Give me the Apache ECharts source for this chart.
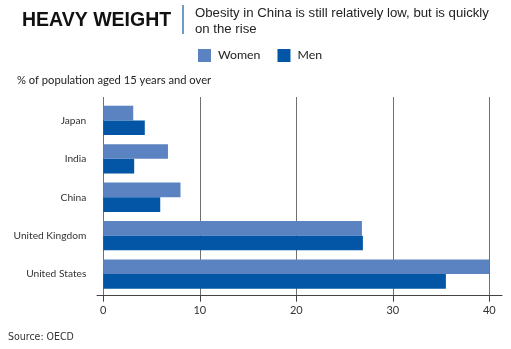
<!DOCTYPE html>
<html>
<head>
<meta charset="utf-8">
<script src="https://cdn.jsdelivr.net/npm/echarts@6/dist/echarts.min.js"></script>
<style>
  html, body { margin: 0; padding: 0; background: #fff; }
  #chart { width: 511px; height: 349px; }
</style>
</head>
<body>
<div id="chart"></div>
<script>
// Obesity rates by country, % of population aged 15+
const countries = ['Japan', 'India', 'China', 'United Kingdom', 'United States'];
const women = [3.1, 6.7, 8.0, 26.8, 40.1];
const men = [4.3, 3.2, 5.9, 26.9, 35.5];
const xTicks = [0, 10, 20, 30, 40];

const WOMEN_COLOR = '#5b82c1';
const MEN_COLOR = '#0356a5';
const LABEL_FONT = 'Lato, "DejaVu Sans", sans-serif';

const chart = echarts.init(document.getElementById('chart'));

chart.setOption({
  animation: false,
  backgroundColor: '#fff',
  title: [
    {
      text: 'HEAVY WEIGHT',
      left: 22, top: 11, padding: 0,
      textStyle: { fontFamily: '"Liberation Sans", Arial, sans-serif', fontWeight: 'bold', fontSize: 19.5, color: '#111' }
    },
    {
      text: 'Obesity in China is still relatively low, but is quickly\non the rise',
      left: 195, top: 5, padding: 0,
      textStyle: { fontFamily: '"Liberation Sans", Arial, sans-serif', fontWeight: 'normal', fontSize: 13.2, lineHeight: 16.3, color: '#222' }
    },
    {
      text: '% of population aged 15 years and over',
      left: 17, top: 75, padding: 0,
      textStyle: { fontFamily: LABEL_FONT, fontWeight: 'normal', fontSize: 11.2, color: '#222' }
    },
    {
      text: 'Source: OECD',
      left: 8, top: 332, padding: 0,
      textStyle: { fontFamily: '"DejaVu Sans Condensed", "DejaVu Sans", sans-serif', fontWeight: 'normal', fontSize: 10.5, color: '#333' }
    }
  ],
  graphic: [
    {
      type: 'line',
      shape: { x1: 183, y1: 5, x2: 183, y2: 34 },
      style: { stroke: '#2463b0', lineWidth: 1.3 }
    }
  ],
  legend: {
    left: 198, top: 49, padding: 0,
    icon: 'rect',
    itemWidth: 13, itemHeight: 13,
    itemGap: 17,
    textStyle: { fontFamily: LABEL_FONT, fontSize: 12.3, color: '#222', padding: [0, 0, 0, 2] },
    data: ['Women', 'Men']
  },
  grid: [
    // axis baseline, slightly wider than the value range
    { left: 97, right: 9, top: 97, bottom: 53.3, containLabel: false },
    // value scale: gridlines, ticks, labels
    { left: 103.3, right: 21.7, top: 97, bottom: 53.3, containLabel: false },
    // bars
    { left: 103.3, right: 21.7, top: 101.2, bottom: 55.7, containLabel: false }
  ],
  xAxis: [
    {
      gridIndex: 0, type: 'value', min: 0, max: 1,
      axisLine: { show: true, lineStyle: { color: '#444', width: 1 } },
      axisTick: { show: false }, axisLabel: { show: false }, splitLine: { show: false }
    },
    {
      gridIndex: 1, type: 'value', min: xTicks[0], max: xTicks[xTicks.length - 1], interval: 10,
      axisLine: { show: false },
      axisTick: { show: true, length: 6, lineStyle: { color: '#444' } },
      axisLabel: { show: true, margin: 9, fontFamily: LABEL_FONT, fontSize: 11, color: '#333' },
      splitLine: { show: true, lineStyle: { color: '#707070', width: 1 } }
    },
    {
      gridIndex: 2, type: 'value', min: xTicks[0], max: xTicks[xTicks.length - 1],
      show: false
    }
  ],
  yAxis: [
    { gridIndex: 0, type: 'value', show: false },
    { gridIndex: 1, type: 'value', show: false },
    {
      gridIndex: 2, type: 'category', data: countries, inverse: true,
      axisLine: { show: false }, axisTick: { show: false },
      axisLabel: { margin: 17, fontFamily: LABEL_FONT, fontSize: 10.2, color: '#333' }
    }
  ],
  series: [
    {
      name: 'Women', type: 'bar', xAxisIndex: 2, yAxisIndex: 2,
      data: women, itemStyle: { color: WOMEN_COLOR },
      barGap: '0%', barCategoryGap: '23.5%'
    },
    {
      name: 'Men', type: 'bar', xAxisIndex: 2, yAxisIndex: 2,
      data: men, itemStyle: { color: MEN_COLOR },
      barGap: '0%', barCategoryGap: '23.5%'
    }
  ]
});
</script>
</body>
</html>
